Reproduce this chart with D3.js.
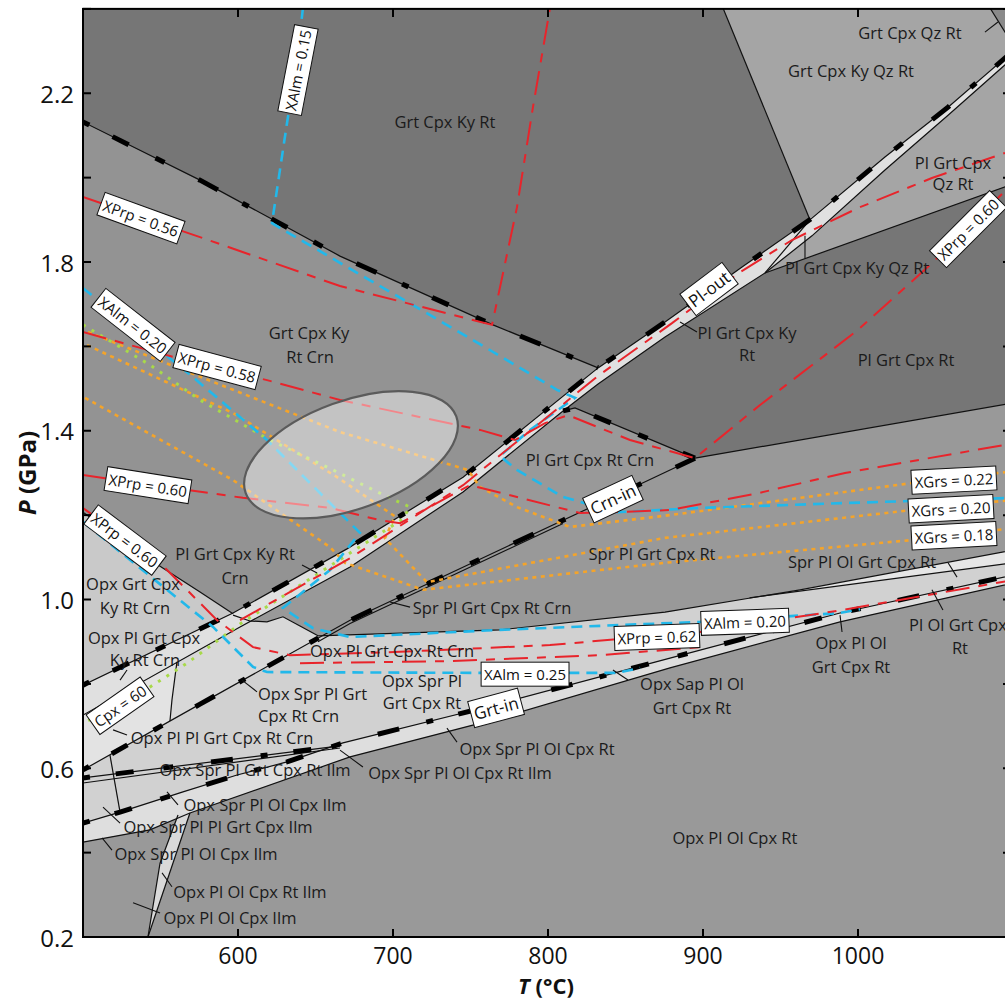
<!DOCTYPE html>
<html>
<head>
<meta charset="utf-8">
<script src="https://cdn.jsdelivr.net/npm/d3@7"></script>
<style>
  body { margin: 0; background: #fff; }
  svg text { font-family: "Open Sans", "Noto Sans", sans-serif; }
</style>
</head>
<body>
<svg id="chart" width="1005" height="999"></svg>
<script>
// ---- Axes ----------------------------------------------------------------
const tDomain = [500, 1100];          // temperature, °C
const pDomain = [0.2, 2.4];           // pressure, GPa
const tTicks = [600, 700, 800, 900, 1000];
const pTicks = [0.2, 0.4, 0.6, 0.8, 1.0, 1.2, 1.4, 1.6, 1.8, 2.0, 2.2, 2.4];
const pTickLabels = [0.2, 0.6, 1.0, 1.4, 1.8, 2.2];

// ---- Field boundaries, [T (°C), P (GPa)] ------------------------------------
const kyCrnUpper = [[500,2.132],[575.5,1.994],[665.8,1.814],[764.5,1.651],[832.3,1.549]];
const plOut = [[500,0.797],[596.8,0.968],[670.3,1.12],[745.2,1.29],[832.3,1.549],[875.5,1.658],[925.2,1.788],[970.3,1.904],[1017.4,2.049],[1058.1,2.167],[1100,2.30]];
const plBandLower = [[500,0.726],[601.3,0.935],[672.3,1.077],[745.2,1.255],[809.7,1.447],[832.3,1.511],[875.5,1.622],[940,1.774],[970.3,1.862],[1017.4,2.018],[1058.1,2.148],[1100,2.284]];
const crnIn = [[500,0.596],[575.5,0.752],[672.3,0.951],[809.7,1.188],[841.9,1.243],[894.8,1.335]];
const crnInLower = [[651.6,0.900],[672.3,0.943],[809.7,1.180]];
const crnOutUpper = [[809.7,1.447],[817.4,1.454],[894.8,1.335]];
const plRtLower = [[894.8,1.335],[1100,1.466]];
const qzLine = [[912.9,2.402],[969,1.9]];
const qzWedge = [[969,1.9],[940,1.774]];
const qzLower = [[940,1.774],[1100,1.985]];
const cornerLine = [[1085.2,2.402],[1100,2.314]];
const opxIn = [[500,1.207],[543.2,1.094],[575.5,1.018],[596.8,0.966]];
const opxCurve = [[596.8,0.963],[607.7,0.949],[618.7,0.947],[629,0.959],[640,0.937],[651.6,0.914]];
const opxTop = [[651.6,0.914],[769,0.928],[875.5,0.970],[962.6,1.023],[1100,1.117]];
const olWedge = [[930,1.004],[1100,1.087]];
const grtIn = [[500,0.47],[523.9,0.496],[564.5,0.544],[599.4,0.584],[631.6,0.615],[667.7,0.66],[765.8,0.75],[878.7,0.861],[988.4,0.968],[1100,1.058]];
const grtLower = [[500,0.425],[543.2,0.454],[569,0.494],[672.3,0.627],[769,0.719],[878.7,0.838],[988.4,0.947],[1100,1.039]];
const ilmUpper = [[500,0.577],[665.8,0.653]];
const ilmLower = [[500,0.565],[665.8,0.648]];
const ilmStep = [[517.4,0.631],[523.9,0.496]];
const crnStep = [[560.6,0.852],[557.4,0.762],[556.1,0.712]];
const rtWedgeA = [[541.9,0.2],[569,0.494]];
const rtWedgeB = [[541.9,0.2],[549.7,0.375],[561.3,0.489]];

// ---- Isopleths ----------------------------------------------------------------
const xPrpLines = [
  [[500,1.954],[575.5,1.859],[665.8,1.743],[763.9,1.651],[771,1.774],[780,1.93],[790.3,2.167],[801.3,2.402]],
  [[500,1.634],[558.1,1.575],[618.7,1.52],[665.8,1.473],[756.1,1.402],[778.7,1.378],[798.1,1.418],[812.9,1.437],[852.9,1.378],[894.8,1.335],[936.8,1.461],[1000,1.639],[1046.5,1.793],[1100,1.987]],
  [[500,1.295],[603.2,1.241],[659.4,1.217],[691.6,1.188],[704.5,1.181],[749.7,1.271],[780,1.243],[820.6,1.205],[841.9,1.207],[878.7,1.212],[935.5,1.252],[991.6,1.30],[1100,1.37]],
  [[500,1.217],[552.9,1.075],[586.5,0.951],[609.7,0.887],[633.5,0.868],[704.5,0.876],[801.3,0.892],[898.1,0.923],[989.7,0.975],[1100,1.046]],
  [[640,0.849],[736.8,0.854],[833.5,0.868],[898.1,0.887]],
  [[601.3,0.951],[672.3,1.098],[745.2,1.271],[832.3,1.53],[880,1.655],[923.9,1.776],[957.4,1.852],[1000,1.928],[1047.7,1.999],[1100,2.065]]
];
const xAlmLines = [
  [[641.9,2.402],[638.1,2.279],[631.6,2.129],[621.9,1.892],[665.8,1.798],[751.6,1.615],[805.8,1.497],[817.4,1.478],[788.4,1.402],[769,1.34],[780,1.307],[809.7,1.243],[844.5,1.207],[898.1,1.217],[994.8,1.229],[1100,1.241]],
  [[500,1.738],[571,1.527],[618.7,1.378],[663.9,1.212],[678.7,1.158],[659.4,1.07],[629,0.98],[648.4,0.932],[672.3,0.911],[769,0.928],[898.1,0.947],[988.4,0.968],[1001.3,0.977]],
  [[500,1.184],[554.2,1.023],[583.9,0.935],[609.7,0.84],[618.7,0.828],[758.1,0.826],[844.5,0.826],[859.4,0.838]]
];
const xGrsLines = [
  [[503.2,1.634],[596.8,1.497],[665.8,1.397],[748.4,1.307],[756.1,1.267],[780,1.219],[814.2,1.172],[878.7,1.2],[1034.8,1.276],[1100,1.304]],
  [[502.6,1.603],[596.8,1.442],[663.9,1.29],[701.3,1.197],[694.8,1.145],[721.9,1.041],[875.5,1.146],[1034.8,1.212],[1100,1.236]],
  [[501.3,1.478],[596.8,1.283],[659.4,1.124],[669,1.087],[719.4,1.023],[875.5,1.087],[1034.8,1.141],[1100,1.169]]
];
const cpxLine = [[500,1.651],[543.2,1.556],[575.5,1.473],[620.6,1.378],[661.3,1.307],[691.6,1.252],[711,1.219],[706,1.19],[601.3,0.942],[567.1,0.849],[530.3,0.762],[500,0.707]];

// Peak P–T estimate: centre, half-extent along its long / short axis, tilt
const peakCentre = [672.9, 1.343];
const peakHalfT = 72.3;
const peakHalfP = 0.128;
const peakTilt = -20;

// ---- Labels ------------------------------------------------------------------
const fieldLabels = [
  ["Grt Cpx Ky Rt", 733.5, 2.132], ["Grt Cpx Qz Rt", 1033.5, 2.345], ["Grt Cpx Ky Qz Rt", 995.5, 2.255],
  ["Pl Grt Cpx", 1061.3, 2.037], ["Qz Rt", 1061.3, 1.985], ["Pl Grt Cpx Ky Qz Rt", 999.4, 1.786],
  ["Pl Grt Cpx Ky", 928.4, 1.634], ["Rt", 928.4, 1.580], ["Pl Grt Cpx Rt", 1031, 1.570],
  ["Grt Cpx Ky", 645.8, 1.632], ["Rt Crn", 646.5, 1.577], ["Pl Grt Cpx Rt Crn", 827.1, 1.331],
  ["Spr Pl Grt Cpx Rt", 867.1, 1.110], ["Spr Pl Ol Grt Cpx Rt", 1002.6, 1.091],
  ["Pl Ol Grt Cpx", 1064.5, 0.940], ["Rt", 1065.8, 0.887], ["Opx Pl Ol", 995.5, 0.897], ["Grt Cpx Rt", 995.5, 0.842],
  ["Pl Grt Cpx Ky Rt", 598.1, 1.108], ["Crn", 598.1, 1.053],
  ["Opx Grt Cpx", 532.3, 1.039], ["Ky Rt Crn", 533.5, 0.982],
  ["Opx Pl Grt Cpx", 539.4, 0.909], ["Ky Rt Crn", 540, 0.857],
  ["Opx Pl Pl Grt Cpx Rt Crn", 589.7, 0.674], ["Spr Pl Grt Cpx Rt Crn", 763.9, 0.982],
  ["Opx Pl Grt Cpx Rt Crn", 699.4, 0.878],
  ["Opx Spr Pl Grt", 612.9, 0.778, "start"], ["Cpx Rt Crn", 612.9, 0.726, "start"],
  ["Opx Spr Pl", 718.7, 0.809], ["Grt Cpx Rt", 718.7, 0.755],
  ["Opx Sap Pl Ol", 892.9, 0.802], ["Grt Cpx Rt", 892.9, 0.745],
  ["Opx Spr Pl Ol Cpx Rt", 792.9, 0.648], ["Opx Spr Pl Grt Cpx Rt Ilm", 611, 0.596],
  ["Opx Spr Pl Ol Cpx Rt Ilm", 743.2, 0.589], ["Opx Spr Pl Ol Cpx Ilm", 617.4, 0.513],
  ["Opx Spr Pl Pl Grt Cpx Ilm", 587.1, 0.461], ["Opx Spr Pl Ol Cpx Ilm", 572.9, 0.399],
  ["Opx Pl Ol Cpx Rt Ilm", 607.7, 0.307], ["Opx Pl Ol Cpx Ilm", 594.8, 0.247],
  ["Opx Pl Ol Cpx Rt", 920.6, 0.435]
];
const leaders = [
  [[641.3,1.082],[651,1.063]], [[519.4,0.691],[528.4,0.679]], [[602.6,0.809],[612.3,0.781]],
  [[698.1,0.994],[711,0.982]], [[734.8,0.695],[741.3,0.662]], [[665.8,0.643],[680.6,0.603]],
  [[554.2,0.544],[561.3,0.513]], [[512.9,0.508],[523.9,0.470]], [[512.3,0.435],[518.7,0.406]],
  [[551,0.352],[557.4,0.319]], [[532.3,0.281],[549.7,0.257]], [[841.9,0.833],[851.6,0.809]],
  [[988.4,0.963],[989.7,0.923]], [[1047.7,1.023],[1054.8,0.975]], [[1058.1,1.087],[1063.9,1.053]],
  [[885.2,1.658],[896.1,1.634]], [[965.8,1.862],[965.8,1.809]], [[1081.9,2.345],[1090.3,2.369]],
  [[523.9,0.809],[528.4,0.833]]
];
// [text, T, P, angle, size]
const boxedLabels = [
  ["XAlm = 0.15", 638.7, 2.255, -79, 15], ["XPrp = 0.56", 537.4, 1.904, 20, 15],
  ["XAlm = 0.20", 532.3, 1.651, 38, 15], ["XPrp = 0.58", 586.5, 1.551, 15, 15],
  ["XPrp = 0.60", 541.9, 1.271, 9, 15], ["XPrp = 0.60", 527.1, 1.141, 37, 15],
  ["Cpx = 60", 523.9, 0.748, -35, 15], ["Pl-out", 903.9, 1.736, -37, 17],
  ["XPrp = 0.60", 1071, 1.878, -45, 15], ["Crn-in", 841.9, 1.238, -25, 17],
  ["XGrs = 0.22", 1061.9, 1.283, -3, 15], ["XGrs = 0.20", 1060, 1.215, -3, 15],
  ["XGrs = 0.18", 1061.9, 1.151, -3, 15], ["XPrp = 0.62", 870.3, 0.911, -2, 15],
  ["XAlm = 0.20", 927.1, 0.947, -2, 15], ["XAlm = 0.25", 785.2, 0.823, 0, 15],
  ["Grt-in", 766.5, 0.743, -15, 17]
];

// ---- Helpers -------------------------------------------------------------------
function pAt(line, t) {
  if (t <= line[0][0]) return line[0][1];
  for (let i = 1; i < line.length; i++) {
    const a = line[i - 1], b = line[i];
    if (t <= b[0]) return a[1] + (b[1] - a[1]) * (t - a[0]) / (b[0] - a[0]);
  }
  return line[line.length - 1][1];
}
function seg(line, t0, t1) {
  const lo = Math.min(t0, t1), hi = Math.max(t0, t1);
  const pts = [[lo, pAt(line, lo)], ...line.filter(d => d[0] > lo && d[0] < hi), [hi, pAt(line, hi)]];
  return t0 <= t1 ? pts : pts.reverse();
}

const svg = d3.select("#chart");
const x = d3.scaleLinear().domain(tDomain).range([83, 1013]);
const y = d3.scaleLinear().domain(pDomain).range([937, 8.875]);
const path = d3.line().x(d => x(d[0])).y(d => y(d[1]));

svg.append("defs").append("clipPath").attr("id", "plotClip").append("rect")
  .attr("x", x(tDomain[0])).attr("y", y(pDomain[1]))
  .attr("width", x(tDomain[1]) - x(tDomain[0])).attr("height", y(pDomain[0]) - y(pDomain[1]));

const plot = svg.append("g").attr("clip-path", "url(#plotClip)");

// ---- Field fills ---------------------------------------------------------------
const T0 = tDomain[0], T1 = tDomain[1], PTOP = pDomain[1];
const fields = [
  { fill: "#999999", pts: [[T0, pDomain[0]], [T1, pDomain[0]], [T1, PTOP], [T0, PTOP]] },
  { fill: "#939393", pts: [...seg(kyCrnUpper, T0, 832.3), ...seg(plOut, 832.3, 596.8), ...seg(opxIn, 596.8, T0)] },
  { fill: "#767676", pts: [[T0, PTOP], qzLine[0], qzLine[1], ...seg(plOut, 969, 832.3), ...seg(kyCrnUpper, 832.3, T0)] },
  { fill: "#a5a5a5", pts: [qzLine[0], cornerLine[0], cornerLine[1], ...seg(plOut, T1, 969), qzLine[1]] },
  { fill: "#8a8a8a", pts: [cornerLine[0], [T1, PTOP], cornerLine[1]] },
  { fill: "#a5a5a5", pts: [...seg(plBandLower, 940, T1), qzLower[1], qzLower[0]] },
  { fill: "#767676", pts: [...seg(plBandLower, 809.7, 940), qzLower[1], plRtLower[1], plRtLower[0], crnOutUpper[1], crnOutUpper[0]] },
  { fill: "#e0e0e0", pts: [...seg(plOut, T0, T1), ...seg(plBandLower, T1, T0)] },
  { fill: "#c9c9c9", pts: [...opxIn, ...seg(plOut, 596.8, T0)] },
  { fill: "#d8d8d8", pts: [...seg(plBandLower, T0, 607.7), ...opxCurve.slice(2), ...seg(crnIn, 651.6, T0)] },
  { fill: "#e3e3e3", pts: [...seg(plBandLower, T0, 560.6), ...crnStep, ...seg(crnIn, 556.1, T0)] },
  { fill: "#d1d1d1", pts: [...seg(crnIn, T0, 651.6), ...opxTop, [T1, pAt(grtIn, T1)], ...seg(grtIn, T1, T0)] },
  { fill: "#e6e6e6", pts: [...seg(opxTop, 930, T1), ...seg(olWedge, T1, 930)] },
  { fill: "#dedede", pts: [...seg(grtIn, T0, T1), ...seg(grtLower, T1, T0)] },
  { fill: "#d9d9d9", pts: [rtWedgeA[0], rtWedgeA[1], rtWedgeB[2], rtWedgeB[1]] }
];
plot.append("g").selectAll("path").data(fields).join("path")
  .attr("d", d => path(d.pts) + "Z").attr("fill", d => d.fill).attr("stroke", "none");

// ---- Boundaries ----------------------------------------------------------------
const thinLines = [kyCrnUpper, plOut, plBandLower, crnIn, crnInLower, crnOutUpper, plRtLower, qzLine, qzWedge,
  qzLower, cornerLine, opxIn, opxCurve, opxTop, olWedge, grtIn, grtLower, ilmUpper, ilmLower, ilmStep, crnStep,
  rtWedgeA, rtWedgeB];
plot.append("g").selectAll("path").data(thinLines).join("path")
  .attr("d", path).attr("fill", "none").attr("stroke", "#111").attr("stroke-width", 1.2);

// univariant reactions carry the heavy dash overlay
const heavyLines = [kyCrnUpper, plOut, seg(crnIn, T0, 894.8), crnOutUpper, grtIn, ilmUpper];
plot.append("g").selectAll("path").data(heavyLines).join("path")
  .attr("d", path).attr("fill", "none").attr("stroke", "#000").attr("stroke-width", 5)
  .attr("stroke-dasharray", "7 26 18 30 10 38 22 28");

// ---- Isopleths -----------------------------------------------------------------
const iso = plot.append("g").attr("fill", "none");
iso.selectAll(".grs").data(xGrsLines).join("path").attr("class", "grs").attr("d", path)
  .attr("stroke", "#f4a42a").attr("stroke-width", 2.6).attr("stroke-dasharray", "4 4.5");
iso.append("path").datum(cpxLine).attr("d", path)
  .attr("stroke", "#a8d94a").attr("stroke-width", 3).attr("stroke-dasharray", "3 7");
iso.selectAll(".alm").data(xAlmLines).join("path").attr("class", "alm").attr("d", path)
  .attr("stroke", "#22b8ea").attr("stroke-width", 2.6).attr("stroke-dasharray", "11 7");
iso.selectAll(".prp").data(xPrpLines).join("path").attr("class", "prp").attr("d", path)
  .attr("stroke", "#e8242b").attr("stroke-width", 2).attr("stroke-dasharray", "24 9 9 9");

// ---- Peak ellipse ----------------------------------------------------------------
plot.append("ellipse")
  .attr("transform", `translate(${x(peakCentre[0])},${y(peakCentre[1])}) rotate(${peakTilt})`)
  .attr("rx", x(peakCentre[0] + peakHalfT) - x(peakCentre[0]))
  .attr("ry", y(peakCentre[1] - peakHalfP) - y(peakCentre[1]))
  .attr("fill", "rgba(255,255,255,0.45)").attr("stroke", "#5b5b5b").attr("stroke-width", 2.2);

// ---- Leaders and field names ----------------------------------------------------
plot.append("g").selectAll("path").data(leaders).join("path")
  .attr("d", path).attr("stroke", "#111").attr("stroke-width", 1.1).attr("fill", "none");

plot.append("g").selectAll("text").data(fieldLabels).join("text")
  .attr("x", d => x(d[1])).attr("y", d => y(d[2]))
  .attr("text-anchor", d => d[3] || "middle").attr("dominant-baseline", "central")
  .attr("font-size", 16.5).attr("fill", "#1b1b1b").text(d => d[0]);

const boxes = plot.append("g").selectAll("g").data(boxedLabels).join("g")
  .attr("transform", d => `translate(${x(d[1])},${y(d[2])}) rotate(${d[3]})`);
boxes.each(function (d) {
  const g = d3.select(this);
  const t = g.append("text").attr("text-anchor", "middle").attr("dominant-baseline", "central")
    .attr("font-size", d[4]).attr("fill", "#111").text(d[0]);
  const b = t.node().getBBox();
  g.insert("rect", "text").attr("x", b.x - 3).attr("y", b.y - 2)
    .attr("width", b.width + 6).attr("height", b.height + 4)
    .attr("fill", "#fff").attr("stroke", "#111").attr("stroke-width", 1);
});

// ---- Frame, ticks, axis titles ---------------------------------------------------
const xl = x(tDomain[0]), xr = x(tDomain[1]), yb = y(pDomain[0]), yt = y(pDomain[1]);
svg.append("rect").attr("x", xl).attr("y", yt).attr("width", xr - xl).attr("height", yb - yt)
  .attr("fill", "none").attr("stroke", "#000").attr("stroke-width", 2);

const ticks = svg.append("g").attr("stroke", "#000").attr("stroke-width", 2);
pTicks.forEach(p => {
  ticks.append("line").attr("x1", xl).attr("x2", xl + 8).attr("y1", y(p)).attr("y2", y(p));
  ticks.append("line").attr("x1", xr).attr("x2", xr - 10).attr("y1", y(p)).attr("y2", y(p));
});
tTicks.forEach(t => {
  ticks.append("line").attr("x1", x(t)).attr("x2", x(t)).attr("y1", yb).attr("y2", yb - 8);
  ticks.append("line").attr("x1", x(t)).attr("x2", x(t)).attr("y1", yt).attr("y2", yt + 8);
});
svg.append("g").selectAll("text").data(pTickLabels).join("text")
  .attr("x", xl - 9).attr("y", d => y(d)).attr("text-anchor", "end").attr("dominant-baseline", "central")
  .attr("font-size", 24).attr("fill", "#111").text(d => d.toFixed(1));
svg.append("g").selectAll("text").data(tTicks).join("text")
  .attr("x", d => x(d)).attr("y", yb + 18).attr("text-anchor", "middle").attr("dominant-baseline", "central")
  .attr("font-size", 23).attr("fill", "#111").text(d => d);

const tTitle = svg.append("text").attr("x", (x(750) + x(850)) / 2 - 2).attr("y", 994)
  .attr("text-anchor", "middle")
  .attr("font-size", 22).attr("font-weight", 700).attr("fill", "#111");
tTitle.append("tspan").attr("font-style", "italic").text("T");
tTitle.append("tspan").text(" (°C)");

const pTitle = svg.append("text").attr("transform", `translate(26,${y(1.3)}) rotate(-90)`)
  .attr("text-anchor", "middle").attr("dominant-baseline", "central")
  .attr("font-size", 24).attr("font-weight", 700).attr("fill", "#111");
pTitle.append("tspan").attr("font-style", "italic").text("P");
pTitle.append("tspan").text(" (GPa)");
</script>
</body>
</html>
